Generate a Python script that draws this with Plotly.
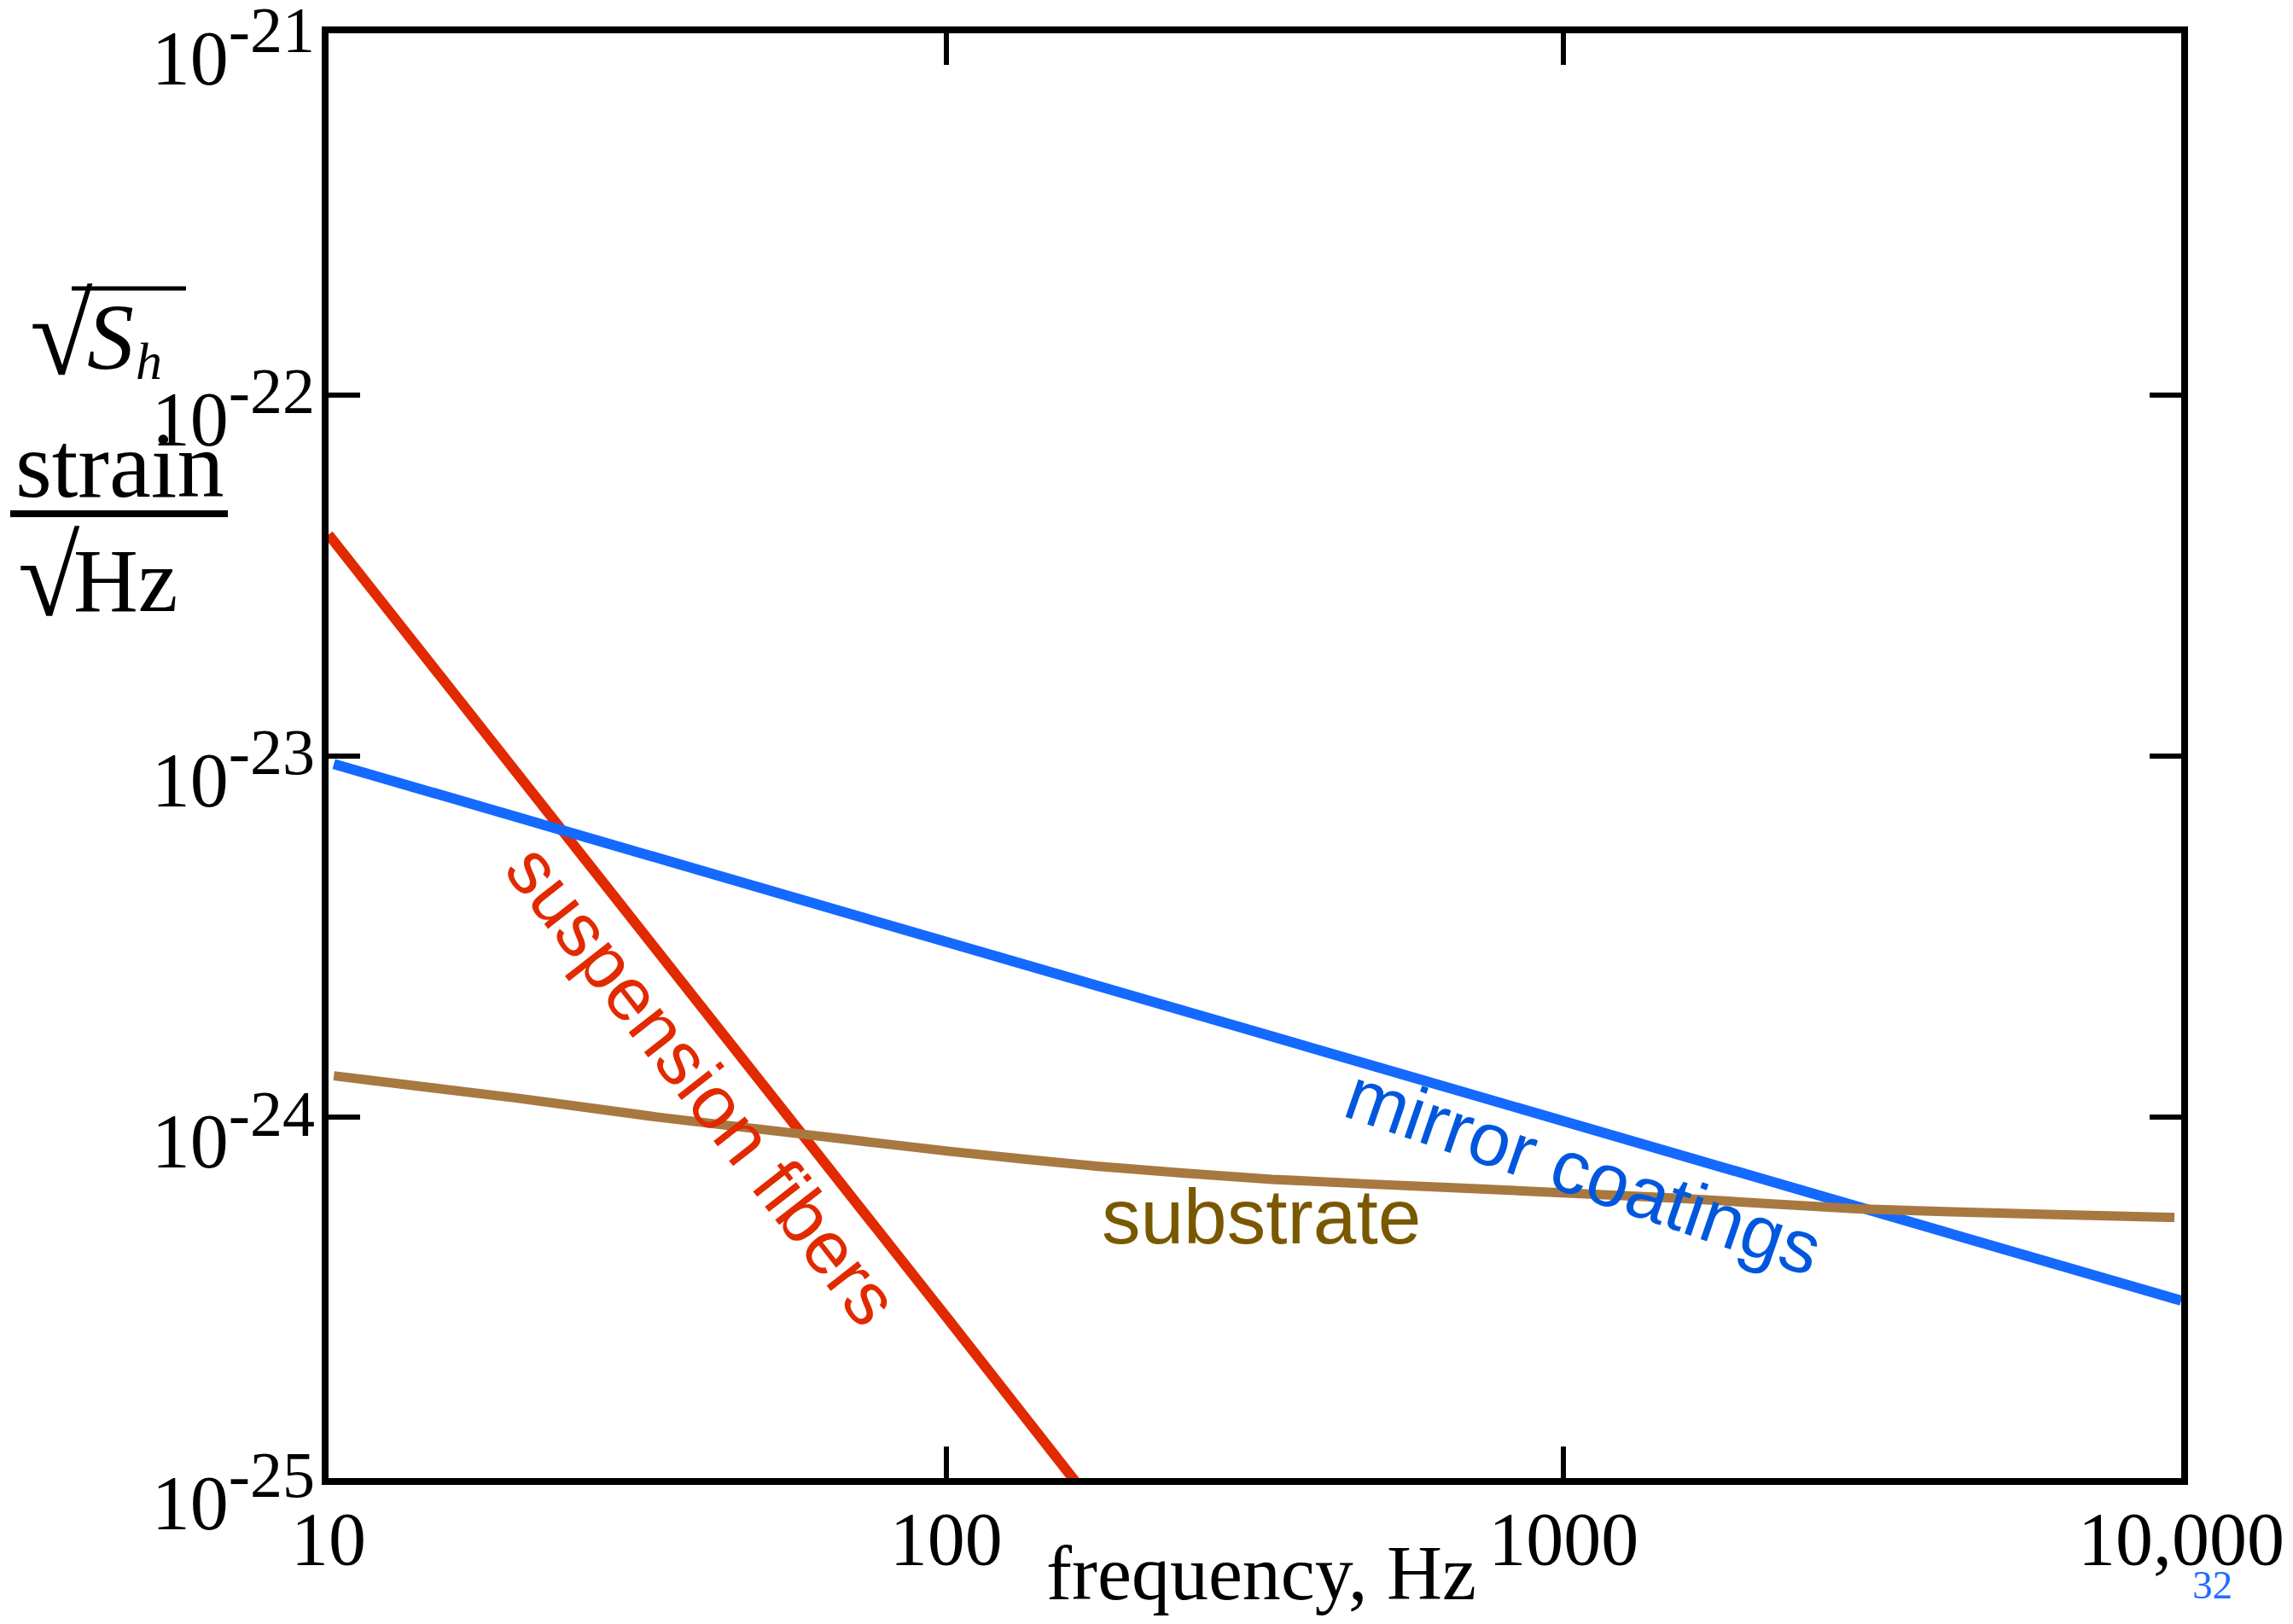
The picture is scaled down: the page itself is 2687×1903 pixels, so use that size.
import plotly.graph_objects as go

# ---------------- data ----------------
freq_susp = [10, 20, 50, 100, 170]
strain_susp = [4.1e-23, 9.2e-24, 1.26e-24, 2.8e-25, 8.8e-26]

freq_coat = [10.2, 100, 1000, 10000]
strain_coat = [9.5e-24, 3.05e-24, 9.7e-25, 3.1e-25]

freq_sub = [10.2, 20, 34, 58, 102, 175, 337, 685, 1550, 2990, 6070, 9750]
strain_sub = [1.30e-24, 1.13e-24, 1.00e-24, 8.98e-25, 8.02e-25, 7.31e-25,
              6.72e-25, 6.35e-25, 5.95e-25, 5.57e-25, 5.37e-25, 5.27e-25]

x_tickvals = [10, 100, 1000, 10000]
x_ticktext = ["10", "100", "1000", "10,000"]
y_tickvals = [1e-25, 1e-24, 1e-23, 1e-22, 1e-21]
y_ticktext = ["10<sup><span style='font-size:76px'>-25</span></sup>",
              "10<sup><span style='font-size:76px'>-24</span></sup>",
              "10<sup><span style='font-size:76px'>-23</span></sup>",
              "10<sup><span style='font-size:76px'>-22</span></sup>",
              "10<sup><span style='font-size:76px'>-21</span></sup>"]

# ---------------- layout geometry (pixels) ----------------
W, H = 2687, 1903
L, R, T, B = 385, 2556, 39, 1732
PW, PH = R - L, B - T


def px(x):
    return (x - L) / PW


def py(y):
    return (B - y) / PH


RED = "#E12A00"
BLUE = "#1469FF"
BROWN = "#A87841"
SERIF = "Liberation Serif"
SANS = "Liberation Sans"

fig = go.Figure()
fig.add_trace(go.Scatter(x=freq_susp, y=strain_susp, mode="lines",
                         line=dict(color=RED, width=12), name="suspension fibers"))
fig.add_trace(go.Scatter(x=freq_coat, y=strain_coat, mode="lines",
                         line=dict(color=BLUE, width=12), name="mirror coatings"))
fig.add_trace(go.Scatter(x=freq_sub, y=strain_sub, mode="lines",
                         line=dict(color=BROWN, width=11, shape="spline", smoothing=0.6),
                         name="substrate"))

axis_common = dict(showline=True, linewidth=8, linecolor="black", mirror="ticks",
                   ticks="inside", ticklen=37, tickwidth=6, tickcolor="black",
                   showgrid=False, zeroline=False, ticklabeloverflow="allow",
                   automargin=False)

fig.update_layout(
    width=W, height=H,
    margin=dict(l=L, r=W - R, t=T, b=H - B, pad=0, autoexpand=False),
    paper_bgcolor="white", plot_bgcolor="white",
    showlegend=False,
    xaxis=dict(type="log", range=[1, 4], tickvals=x_tickvals, ticktext=x_ticktext,
               tickfont=dict(family=SERIF, size=88, color="black"),
               ticklabelstandoff=-13, **axis_common),
    yaxis=dict(type="log", range=[-25, -20.999], tickvals=y_tickvals, ticktext=y_ticktext,
               tickfont=dict(family=SERIF, size=90, color="black"),
               ticklabelshift=28, ticklabelstandoff=-10, **axis_common),
)


def serif_note(text, x, base, size, anchor="left", color="black"):
    # place text by its baseline (pixel coordinates on the page)
    return dict(x=px(x), y=py(base - 0.36 * size), xref="paper", yref="paper",
                xanchor=anchor, yanchor="middle", text=text, showarrow=False,
                font=dict(family=SERIF, size=size, color=color))


annotations = [
    # curve labels
    dict(x=1.6066, y=-23.911, xref="x", yref="y", text="suspension fibers", textangle=52,
         showarrow=False, font=dict(family=SANS, size=88, color=RED)),
    dict(x=3.0326, y=-24.151, xref="x", yref="y", text="mirror coatings", textangle=19,
         showarrow=False, font=dict(family=SANS, size=88, color="#0057DD")),
    dict(x=2.510, y=-24.275, xref="x", yref="y", text="substrate",
         showarrow=False, font=dict(family=SANS, size=91, color="#7A5800")),
    # y-axis title block:  sqrt(S_h)  and  strain / sqrt(Hz)
    serif_note("√", 33, 441, 134),
    serif_note("<i>S</i>", 100, 435, 110),
    serif_note("<i>h</i>", 157, 445, 62),
    serif_note("strain", 140, 585, 110, anchor="center"),
    serif_note("√", 19, 724, 132),
    serif_note("Hz", 84, 718, 105),
    # x-axis title
    serif_note("frequency, Hz", 1478, 1876, 90, anchor="center"),
    # slide number
    serif_note("32", 2592, 1874, 47, anchor="center", color="#1E6EFF"),
]
fig.update_layout(annotations=annotations)

# fraction bar and radical overline
fig.add_shape(type="line", xref="paper", yref="paper", x0=px(12), x1=px(267), y0=py(602), y1=py(602),
              line=dict(color="black", width=8))
fig.add_shape(type="line", xref="paper", yref="paper", x0=px(84), x1=px(218), y0=py(338), y1=py(338),
              line=dict(color="black", width=5))

fig.write_html("out.html", config={"displayModeBar": False},
               post_script="document.body.style.margin='0';document.body.style.overflow='hidden';")
